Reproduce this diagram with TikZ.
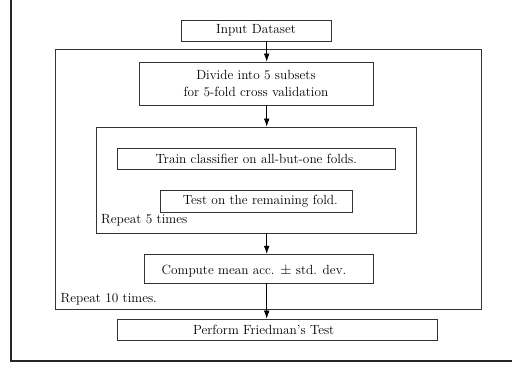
\documentclass[tikz,border=0pt]{standalone}
\usetikzlibrary{arrows.meta}
\begin{document}
\begin{tikzpicture}[x=1pt,y=-1pt,
  font=\fontsize{13.3}{21}\selectfont,
  box/.style={draw=black!80, line width=0.6pt, rectangle, inner sep=0pt, align=center},
  frame/.style={draw=black!80, line width=0.6pt},
  arr/.style={draw=black, line width=0.6pt, -{Latex[length=8pt,width=5.5pt]}},
  txt/.style={inner sep=0pt, anchor=base west}]
\useasboundingbox (0,0) rectangle (512,366);
% outer frame (partly visible)
\draw[black!85, line width=1.3pt] (11,-2) -- (11,361) -- (514,361);
% big loop box
\node[frame, minimum width=426pt, minimum height=260pt, inner sep=0pt] (outerloop) at (268,179) {};
\node[txt] (rep10) at (60.5,302.5) {Repeat 10 times.};
% inner loop box
\node[frame, minimum width=320pt, minimum height=106pt, inner sep=0pt] (innerloop) at (256,180) {};
\node[txt] (rep5) at (101,223.5) {Repeat 5 times};
% step boxes
\node[box, minimum width=150pt, minimum height=21pt] (input) at (256,30.5) {Input Dataset};
\node[box, minimum width=234pt, minimum height=43pt] (divide) at (256,83.5) {\raisebox{-5pt}{\shortstack{Divide into 5 subsets\\[5pt]for 5-fold cross validation}}};
\node[box, minimum width=278pt, minimum height=21pt] (train) at (256.3,158.7) {Train classifier on all-but-one folds.};
\node[box, minimum width=192pt, minimum height=22pt,
  label={[xshift=4pt]center:Test on the remaining fold.}] (test) at (256.3,201) {};
\node[box, minimum width=229pt, minimum height=29pt,
  label={[xshift=-4.7pt,yshift=-2pt]center:Compute mean acc. $\pm$ std. dev.}] (compute) at (258.7,268.7) {};
\node[box, minimum width=320pt, minimum height=21pt,
  label={[xshift=-13.6pt]center:Perform Friedman's Test}] (perform) at (277.3,329.5) {};
% arrow axis
\coordinate (ax) at (266.7,0);
\draw[arr] (input.south -| ax) -- (divide.north -| ax);
\draw[arr] (divide.south -| ax) -- (innerloop.north -| ax);
\draw[arr] (innerloop.south -| ax) -- (compute.north -| ax);
\draw[arr] (compute.south -| ax) -- (perform.north -| ax);
\end{tikzpicture}
\end{document}
